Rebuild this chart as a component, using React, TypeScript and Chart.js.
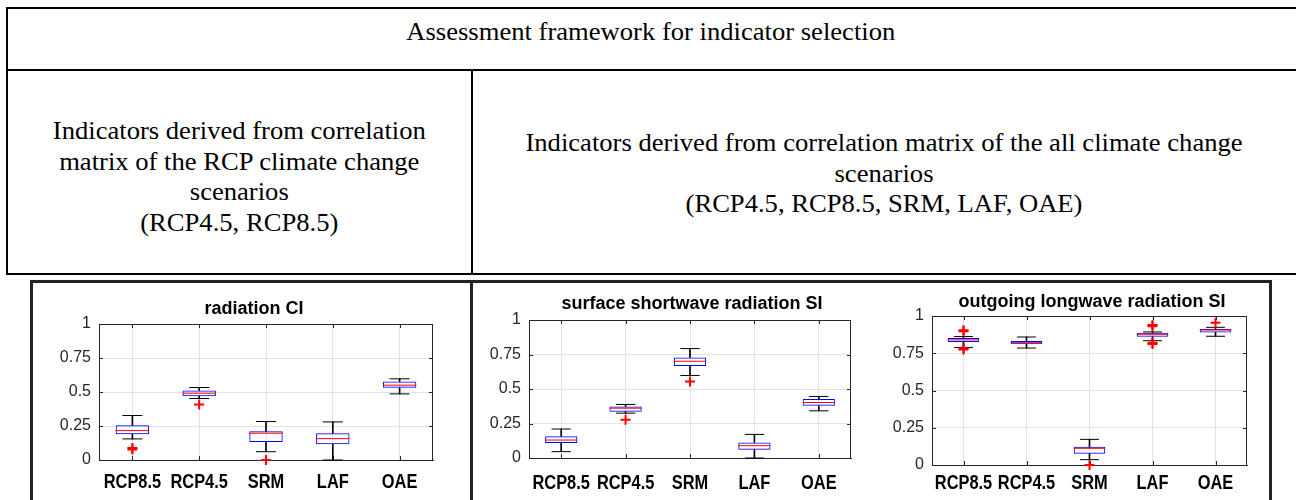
import React, { useEffect, useRef } from 'react';
import { Chart, registerables, CategoryScale } from 'chart.js';

// Category axis whose labels are rendered in a condensed (narrowed) bold face,
// like the Helvetica Condensed labels of the original figure.
class CondensedCategoryScale extends (CategoryScale as any) {
  static id = 'condensedCategory';
  static defaults = (CategoryScale as any).defaults;
  drawLabels(chartArea: any) {
    const ctx = this.ctx;
    const items = this.getLabelItems(chartArea);
    for (const item of items) {
      const o = item.options;
      ctx.save();
      ctx.translate(o.translation[0], o.translation[1]);
      ctx.scale(0.82, 1);
      ctx.font = item.font.string;
      ctx.fillStyle = o.color;
      ctx.textAlign = o.textAlign;
      ctx.textBaseline = o.textBaseline;
      ctx.fillText(item.label, 0, item.textOffset);
      ctx.restore();
    }
  }
}

Chart.register(...registerables, CondensedCategoryScale as any);

// ---------- data ----------
const categories = ['RCP8.5', 'RCP4.5', 'SRM', 'LAF', 'OAE'];
const yTicks = [0, 0.25, 0.5, 0.75, 1];
const yTickLabels = ['0', '0.25', '0.5', '0.75', '1'];

// radiation CI
const ciMin = [0.155, 0.452, 0.061, 0.0, 0.486];
const ciQ1 = [0.189, 0.469, 0.133, 0.115, 0.531];
const ciMed = [0.216, 0.491, 0.197, 0.157, 0.55];
const ciQ3 = [0.256, 0.511, 0.211, 0.197, 0.577];
const ciMax = [0.327, 0.533, 0.283, 0.28, 0.597];
const ciOutliers = [
  { x: 'RCP8.5', y: 0.078 },
  { x: 'RCP8.5', y: 0.088 },
  { x: 'RCP4.5', y: 0.408 },
  { x: 'SRM', y: 0.0 },
];

// surface shortwave radiation SI
const swMin = [0.046, 0.325, 0.598, 0.0, 0.342];
const swQ1 = [0.108, 0.335, 0.667, 0.06, 0.378];
const swMed = [0.13, 0.361, 0.701, 0.089, 0.402];
const swQ3 = [0.157, 0.373, 0.728, 0.113, 0.427];
const swMax = [0.21, 0.388, 0.793, 0.171, 0.446];
const swOutliers = [
  { x: 'RCP4.5', y: 0.277 },
  { x: 'SRM', y: 0.554 },
];

// outgoing longwave radiation SI
const lwMin = [0.788, 0.785, 0.036, 0.834, 0.864];
const lwQ1 = [0.825, 0.81, 0.076, 0.861, 0.89];
const lwMed = [0.84, 0.821, 0.112, 0.877, 0.906];
const lwQ3 = [0.853, 0.832, 0.123, 0.888, 0.913];
const lwMax = [0.862, 0.859, 0.172, 0.893, 0.924];
const lwOutliers = [
  { x: 'RCP8.5', y: 0.897 },
  { x: 'RCP8.5', y: 0.905 },
  { x: 'RCP8.5', y: 0.775 },
  { x: 'RCP8.5', y: 0.782 },
  { x: 'SRM', y: 0.0 },
  { x: 'LAF', y: 0.932 },
  { x: 'LAF', y: 0.94 },
  { x: 'LAF', y: 0.812 },
  { x: 'LAF', y: 0.82 },
  { x: 'OAE', y: 0.955 },
];

// ---------- styling / layout ----------
const SERIF = "'Liberation Serif', 'Times New Roman', serif";
const SANS = "'Liberation Sans', Helvetica, Arial, sans-serif";
const GRID = '#e2e2e2';
const AXIS = '#262626';

type Layout = {
  left: number; top: number; bottom: number;
  areaLeft: number; areaRight: number; areaTop: number; areaBottom: number;
  titleX: number; titleY: number; labelPad: number;
};

const frameLayouts: Layout[] = [
  { left: 34, top: 284, bottom: 498, areaLeft: 99, areaRight: 433, areaTop: 324, areaBottom: 460, titleX: 254, titleY: 309, labelPad: 10 },
  { left: 474, top: 284, bottom: 498, areaLeft: 529, areaRight: 851, areaTop: 320, areaBottom: 458, titleX: 692, titleY: 304, labelPad: 13 },
  { left: 876, top: 284, bottom: 498, areaLeft: 932, areaRight: 1247, areaTop: 316, areaBottom: 465, titleX: 1092, titleY: 302, labelPad: 6 },
];

const framePlugin = {
  id: 'axesFrame',
  beforeDatasetsDraw(chart: any) {
    const { ctx, chartArea } = chart;
    const { left, right, top, bottom } = chartArea;
    const xs = chart.scales.x;
    const ys = chart.scales.y;
    const tl = 4;
    ctx.save();
    ctx.strokeStyle = AXIS;
    ctx.lineWidth = 1;
    ctx.beginPath();
    ctx.moveTo(left, top + 0.5);
    ctx.lineTo(right, top + 0.5);
    ctx.moveTo(right - 0.5, top);
    ctx.lineTo(right - 0.5, bottom);
    ys.ticks.forEach((t: any) => {
      const y = Math.round(ys.getPixelForValue(t.value)) + 0.5;
      ctx.moveTo(left, y);
      ctx.lineTo(left + tl, y);
      ctx.moveTo(right, y);
      ctx.lineTo(right - tl, y);
    });
    xs.ticks.forEach((_t: any, i: number) => {
      const x = Math.round(xs.getPixelForTick(i)) + 0.5;
      ctx.moveTo(x, bottom);
      ctx.lineTo(x, bottom - tl);
      ctx.moveTo(x, top);
      ctx.lineTo(x, top + tl);
    });
    ctx.stroke();
    ctx.restore();
  },
};

type BoxProps = {
  title: string;
  mins: number[]; q1s: number[]; meds: number[]; q3s: number[]; maxs: number[];
  outliers: { x: string; y: number }[];
  layout: Layout;
};

function BoxPanel({ title, mins, q1s, meds, q3s, maxs, outliers, layout }: BoxProps) {
  const ref = useRef<HTMLCanvasElement>(null);
  const L = layout;
  // canvas extends so that the full-width title box is centred on titleX
  const right = Math.max(2 * L.titleX - L.left, L.areaRight + 1);
  useEffect(() => {
    const titleLH = 20;
    const titlePadTop = L.titleY - L.top - titleLH / 2;
    const titlePadBottom = L.areaTop - L.top - titlePadTop - titleLH;
    const boxHalf = (c: any) => c.chart.scales.x.width / categories.length / 4;
    const capHalf = (c: any) => (c.chart.scales.x.width / categories.length) * 0.15;
    const chart = new Chart(ref.current as HTMLCanvasElement, {
      type: 'bar',
      data: {
        labels: categories,
        datasets: [
          {
            type: 'line', data: outliers as any, showLine: false, pointStyle: 'cross',
            pointRadius: 5, pointBorderColor: '#ff0000', pointBackgroundColor: '#ff0000',
            pointBorderWidth: 2, order: 0, clip: false,
          } as any,
          {
            type: 'line', data: meds, showLine: false, pointStyle: 'line',
            pointRadius: boxHalf, pointBorderColor: '#ff0000', pointBackgroundColor: 'rgba(0,0,0,0)',
            pointBorderWidth: 1, order: 1,
          } as any,
          {
            type: 'line', data: maxs, showLine: false, pointStyle: 'line',
            pointRadius: capHalf, pointBorderColor: '#000', pointBackgroundColor: 'rgba(0,0,0,0)',
            pointBorderWidth: 1, order: 2,
          } as any,
          {
            type: 'line', data: mins, showLine: false, pointStyle: 'line',
            pointRadius: capHalf, pointBorderColor: '#000', pointBackgroundColor: 'rgba(0,0,0,0)',
            pointBorderWidth: 1, order: 2, clip: false,
          } as any,
          {
            type: 'bar', data: q1s.map((v, i) => [v, q3s[i]]), backgroundColor: 'rgba(0,0,0,0)',
            borderColor: '#0000ff', borderWidth: 1, borderSkipped: false,
            barPercentage: 0.5, categoryPercentage: 1, grouped: false, order: 3,
          } as any,
          {
            type: 'bar', data: q3s.map((v, i) => [v, maxs[i]]), backgroundColor: '#000',
            borderWidth: 0, barThickness: 1, grouped: false, order: 4,
          } as any,
          {
            type: 'bar', data: mins.map((v, i) => [v, q1s[i]]), backgroundColor: '#000',
            borderWidth: 0, barThickness: 1, grouped: false, order: 4,
          } as any,
        ],
      },
      options: {
        responsive: false,
        animation: false,
        devicePixelRatio: 1,
        layout: { padding: 0 },
        plugins: {
          legend: { display: false },
          tooltip: { enabled: false },
          title: {
            display: true,
            text: title,
            fullSize: true,
            color: '#000',
            font: { family: SANS, size: 18, weight: 'bold', lineHeight: `${titleLH}px` } as any,
            padding: { top: titlePadTop, bottom: titlePadBottom },
          },
        },
        scales: {
          x: {
            type: 'condensedCategory',
            offset: true,
            grid: { offset: false, color: GRID, drawTicks: false },
            border: { display: true, color: AXIS },
            ticks: {
              color: '#000', padding: L.labelPad, autoSkip: false, maxRotation: 0,
              font: { family: SANS, size: 20, weight: 'bold' },
            },
            afterFit: (s: any) => { s.height = L.bottom - L.areaBottom; },
          },
          y: {
            min: 0, max: 1,
            afterBuildTicks: (s: any) => { s.ticks = yTicks.map((value) => ({ value })); },
            grid: { color: GRID, drawTicks: false },
            border: { display: true, color: AXIS },
            ticks: {
              color: AXIS, padding: 8,
              font: { family: SANS, size: 16 },
              callback: (v: any) => yTickLabels[yTicks.indexOf(Number(v))],
            },
            afterFit: (s: any) => { s.width = L.areaLeft - L.left; },
          },
          yRight: {
            type: 'linear',
            position: 'right',
            min: 0, max: 1,
            grid: { display: false, drawTicks: false },
            border: { display: false },
            ticks: { display: false },
            afterFit: (s: any) => { s.width = right - L.areaRight; },
          },
        },
      } as any,
      plugins: [framePlugin],
    });
    return () => chart.destroy();
  }, []);
  return (
    <canvas
      ref={ref}
      width={right - L.left}
      height={L.bottom - L.top}
      style={{ position: 'absolute', left: L.left, top: L.top }}
    />
  );
}

const textStyle: React.CSSProperties = {
  position: 'absolute',
  fontFamily: SERIF,
  fontSize: 25,
  lineHeight: '30.5px',
  color: '#000',
  textAlign: 'center',
  whiteSpace: 'nowrap',
};
const stretch: React.CSSProperties = { display: 'inline-block', transform: 'scaleX(1.064)' };

export default function App() {
  return (
    <div style={{ position: 'absolute', left: 0, top: 0, width: 1296, height: 500, overflow: 'hidden', background: '#fff' }}>
      {/* header table */}
      <div style={{ position: 'absolute', left: 6, top: 7, width: 1300, height: 268, border: '2px solid #000', boxSizing: 'border-box' }} />
      <div style={{ position: 'absolute', left: 6, top: 69, width: 1300, height: 2, background: '#000' }} />
      <div style={{ position: 'absolute', left: 471, top: 70, width: 2, height: 204, background: '#000' }} />
      <div style={{ ...textStyle, left: 6, width: 1290, top: 17 }}>
        <span style={stretch}>Assessment framework for indicator selection</span>
      </div>
      <div style={{ ...textStyle, left: 8, width: 463, top: 116 }}>
        <span style={stretch}>
          Indicators derived from correlation<br />
          matrix of the RCP climate change<br />
          scenarios<br />
          (RCP4.5, RCP8.5)
        </span>
      </div>
      <div style={{ ...textStyle, left: 473, width: 823, top: 128 }}>
        <span style={stretch}>
          Indicators derived from correlation matrix of the all climate change<br />
          scenarios<br />
          (RCP4.5, RCP8.5, SRM, LAF, OAE)
        </span>
      </div>

      {/* figure panels frame */}
      <div style={{ position: 'absolute', left: 30, top: 280, width: 1242, height: 260, border: '3px solid #222', boxSizing: 'border-box' }} />
      <div style={{ position: 'absolute', left: 470, top: 281, width: 3, height: 230, background: '#222' }} />

      <BoxPanel title="radiation CI" mins={ciMin} q1s={ciQ1} meds={ciMed} q3s={ciQ3} maxs={ciMax} outliers={ciOutliers} layout={frameLayouts[0]} />
      <BoxPanel title="surface shortwave radiation SI" mins={swMin} q1s={swQ1} meds={swMed} q3s={swQ3} maxs={swMax} outliers={swOutliers} layout={frameLayouts[1]} />
      <BoxPanel title="outgoing longwave radiation SI" mins={lwMin} q1s={lwQ1} meds={lwMed} q3s={lwQ3} maxs={lwMax} outliers={lwOutliers} layout={frameLayouts[2]} />
    </div>
  );
}
